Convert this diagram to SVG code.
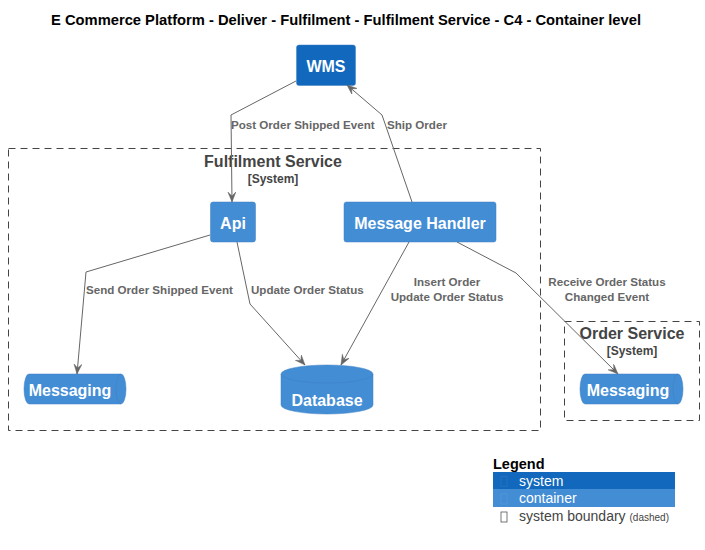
<svg xmlns="http://www.w3.org/2000/svg" width="705" height="550" viewBox="0 0 705 550">
<style>
  .title{font-family:"Liberation Sans",Arial,sans-serif;font-weight:bold;font-size:14.5px;fill:#000}
  .sys{fill:#1168BD;stroke:#3C7FC0;stroke-width:0.5}
  .cont{fill:#438DD5;stroke:#3C7FC0;stroke-width:0.5}
  .ntext{font-family:"Liberation Sans",Arial,sans-serif;font-weight:bold;font-size:16px;fill:#fff;text-anchor:middle}
  .bnd{fill:none;stroke:#444;stroke-width:1;stroke-dasharray:7,5}
  .btitle{font-family:"Liberation Sans",Arial,sans-serif;font-weight:bold;font-size:16px;fill:#444;text-anchor:middle}
  .bsub{font-family:"Liberation Sans",Arial,sans-serif;font-weight:bold;font-size:12px;fill:#444;text-anchor:middle}
  .conn{fill:none;stroke:#666;stroke-width:1}
  .lbl{font-family:"Liberation Sans",Arial,sans-serif;font-weight:bold;font-size:11.6px;fill:#666}
  .lblc{font-family:"Liberation Sans",Arial,sans-serif;font-weight:bold;font-size:11.6px;fill:#666;text-anchor:middle}
  .leg{font-family:"Liberation Sans",Arial,sans-serif;font-size:14px}
</style>
<defs>
  <marker id="arr" markerUnits="userSpaceOnUse" markerWidth="12" markerHeight="10" refX="10" refY="4" orient="auto">
    <path d="M0,0 L10,4 L0,8 L4,4 Z" fill="#666" stroke="#666" stroke-width="0.5"/>
  </marker>
</defs>
<rect width="705" height="550" fill="#fff"/>
<text class="title" x="51" y="25" textLength="590" lengthAdjust="spacingAndGlyphs">E Commerce Platform - Deliver - Fulfilment - Fulfilment Service - C4 - Container level</text>

<g id="fulfilment-service-boundary">
  <rect class="bnd" x="8.5" y="148.5" width="532" height="282"/>
  <text class="btitle" x="273" y="167">Fulfilment Service</text>
  <text class="bsub" x="273" y="183">[System]</text>
</g>
<g id="order-service-boundary">
  <rect class="bnd" x="564.5" y="321.5" width="135" height="99"/>
  <text class="btitle" x="632" y="339">Order Service</text>
  <text class="bsub" x="632" y="355">[System]</text>
</g>

<g id="wms">
  <rect class="sys" x="296.5" y="45" width="59" height="40.5" rx="2.5"/>
  <text class="ntext" x="326" y="72">WMS</text>
</g>
<g id="api">
  <rect class="cont" x="210.5" y="202" width="45" height="40" rx="2.5"/>
  <text class="ntext" x="233" y="229">Api</text>
</g>
<g id="message-handler">
  <rect class="cont" x="344" y="202" width="152" height="40" rx="2.5"/>
  <text class="ntext" x="420" y="229">Message Handler</text>
</g>
<g id="messaging-fulfilment">
  <path class="cont" d="M29,374 H121 A5,15 0 0 1 121,404 H29 A5,15 0 0 1 29,374 Z"/>
  <path d="M121,374 A5,15 0 0 0 121,404" fill="none" stroke="#3C7FC0" stroke-width="0.5"/>
  <text class="ntext" x="70" y="396">Messaging</text>
</g>
<g id="database">
  <path class="cont" d="M281,374 A46,9 0 0 1 373,374 V405 A46,9 0 0 1 281,405 Z"/>
  <path d="M281,374 A46,9 0 0 0 373,374" fill="none" stroke="#3C7FC0" stroke-width="0.5"/>
  <text class="ntext" x="327" y="406">Database</text>
</g>
<g id="messaging-order">
  <path class="cont" d="M585,374 H678 A5,15 0 0 1 678,404 H585 A5,15 0 0 1 585,374 Z"/>
  <path d="M678,374 A5,15 0 0 0 678,404" fill="none" stroke="#3C7FC0" stroke-width="0.5"/>
  <text class="ntext" x="628" y="396">Messaging</text>
</g>

<g id="connectors">
  <path class="conn" d="M296,81 L231,115 L232,202" marker-end="url(#arr)"/>
  <text class="lbl" x="231" y="129">Post Order Shipped Event</text>
  <path class="conn" d="M412,202 L382,115 L347,85" marker-end="url(#arr)"/>
  <text class="lbl" x="387" y="129">Ship Order</text>
  <path class="conn" d="M210,235 L86,272 L77,374" marker-end="url(#arr)"/>
  <text class="lbl" x="86" y="294">Send Order Shipped Event</text>
  <path class="conn" d="M237,242 L250,304 L305,365" marker-end="url(#arr)"/>
  <text class="lbl" x="251" y="294">Update Order Status</text>
  <path class="conn" d="M409,242 L341,365" marker-end="url(#arr)"/>
  <text class="lblc" x="447" y="286">Insert Order</text>
  <text class="lblc" x="447" y="301">Update Order Status</text>
  <path class="conn" d="M457,242 L516,273 L618,374" marker-end="url(#arr)"/>
  <text class="lblc" x="607" y="286">Receive Order Status</text>
  <text class="lblc" x="607" y="301">Changed Event</text>
</g>

<g id="legend">
  <text x="493" y="469" font-family="Liberation Sans,Arial,sans-serif" font-weight="bold" font-size="14.5" fill="#000">Legend</text>
  <rect x="493" y="472" width="182" height="17" fill="#1168BD"/>
  <rect x="493" y="489" width="182" height="18" fill="#438DD5"/>
  <rect x="501" y="476.5" width="6" height="10" fill="none" stroke="#2a73c0" stroke-width="0.8"/>
  <rect x="501" y="494" width="6" height="10" fill="none" stroke="#5597d8" stroke-width="0.8"/>
  <rect x="501" y="512" width="6" height="10" fill="none" stroke="#555" stroke-width="0.8"/>
  <text class="leg" x="519" y="486" fill="#fff">system</text>
  <text class="leg" x="519" y="503" fill="#fff">container</text>
  <text class="leg" x="519" y="521" fill="#444">system boundary <tspan font-size="10">(dashed)</tspan></text>
</g>
</svg>
